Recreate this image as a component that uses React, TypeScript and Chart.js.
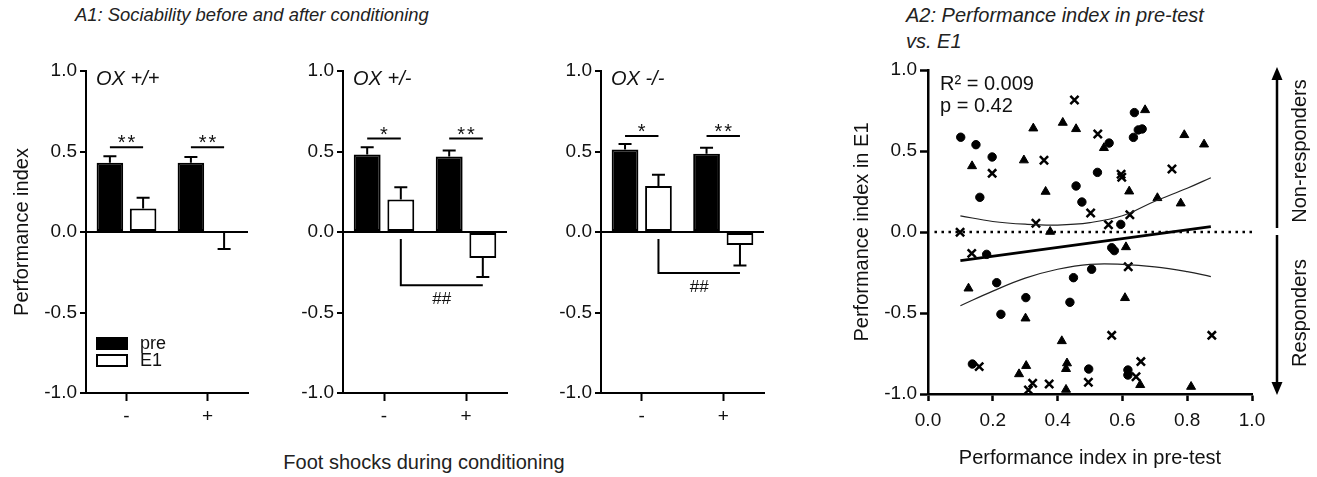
import React, { useEffect, useRef } from 'react';
import { Chart, registerables } from 'chart.js';
Chart.register(...registerables);

const FONT = "Arial, 'Liberation Sans', Helvetica, sans-serif";
const INK = '#111';

// ---------------- A1 data ----------------
const shockLevels = ['-', '+'];
const genotypeLabels = ['OX +/+', 'OX +/-', 'OX -/-'];
const seriesLabels = ['pre', 'E1'];
const yTicksA1 = [-1, -0.5, 0, 0.5, 1];

const preWT = [0.43, 0.43];
const preWTErr = [0.04, 0.036];
const e1WT = [0.146, -0.005];
const e1WTErr = [0.066, 0.1];

const preHet = [0.481, 0.469];
const preHetErr = [0.046, 0.037];
const e1Het = [0.202, -0.162];
const e1HetErr = [0.076, 0.118];

const preKO = [0.512, 0.486];
const preKOErr = [0.035, 0.037];
const e1KO = [0.286, -0.08];
const e1KOErr = [0.07, 0.128];

const sigMarks = [['**', '**'], ['*', '**'], ['*', '**']];
const hashMarks = ['', '##', '##'];

// ---------------- A2 data ----------------
const xTicksA2 = [0, 0.2, 0.4, 0.6, 0.8, 1.0];
const yTicksA2 = [-1, -0.5, 0, 0.5, 1];

const circleX = [0.101, 0.148, 0.198, 0.160, 0.457, 0.475, 0.523, 0.559, 0.637, 0.649, 0.661, 0.634, 0.595, 0.567, 0.575, 0.505, 0.449, 0.438, 0.181, 0.212, 0.302, 0.225, 0.137, 0.496, 0.617, 0.617];
const circleY = [0.585, 0.539, 0.463, 0.214, 0.284, 0.185, 0.368, 0.549, 0.737, 0.630, 0.636, 0.584, 0.047, -0.097, -0.115, -0.230, -0.282, -0.434, -0.138, -0.313, -0.405, -0.508, -0.815, -0.846, -0.852, -0.883];

const triangleX = [0.136, 0.296, 0.325, 0.416, 0.457, 0.363, 0.377, 0.543, 0.670, 0.621, 0.791, 0.852, 0.708, 0.780, 0.611, 0.608, 0.413, 0.429, 0.426, 0.655, 0.426, 0.812, 0.125, 0.301, 0.303, 0.281];
const triangleY = [0.407, 0.443, 0.640, 0.675, 0.636, 0.249, 0.002, 0.519, 0.753, 0.251, 0.599, 0.541, 0.210, 0.177, -0.093, -0.407, -0.673, -0.810, -0.845, -0.944, -0.973, -0.955, -0.348, -0.533, -0.826, -0.877];

const crossX = [0.198, 0.358, 0.452, 0.333, 0.099, 0.524, 0.596, 0.598, 0.502, 0.623, 0.557, 0.753, 0.618, 0.567, 0.876, 0.657, 0.642, 0.495, 0.135, 0.158, 0.323, 0.310, 0.374];
const crossY = [0.362, 0.443, 0.815, 0.054, -0.002, 0.605, 0.356, 0.338, 0.117, 0.107, 0.045, 0.389, -0.214, -0.638, -0.638, -0.800, -0.893, -0.928, -0.132, -0.831, -0.934, -0.975, -0.938];

const fitX = [0.1, 0.873];
const fitY = [-0.177, 0.033];
const bandX = [0.1, 0.2, 0.3, 0.4, 0.5, 0.6, 0.7, 0.8, 0.873];
const upperBand = [0.10, 0.065, 0.048, 0.043, 0.058, 0.10, 0.19, 0.27, 0.335];
const lowerBand = [-0.455, -0.365, -0.285, -0.23, -0.2, -0.2, -0.215, -0.245, -0.275];
const refLineX = [0.02, 1.0];
const statLines = ['R\u00b2 = 0.009', 'p = 0.42'];
const sideLabels = ['Non-responders', 'Responders'];

// ---------------- layout (positions only) ----------------
type Box = { left: number; top: number; w: number; h: number };
type Area = { l: number; t: number; r: number; b: number };

const barPanels = [
  { pre: preWT, preErr: preWTErr, e1: e1WT, e1Err: e1WTErr },
  { pre: preHet, preErr: preHetErr, e1: e1Het, e1Err: e1HetErr },
  { pre: preKO, preErr: preKOErr, e1: e1KO, e1Err: e1KOErr },
];

const barLayout = [
  { box: { left: 0, top: 50, w: 262, h: 380 }, area: { l: 86, t: 71, r: 248, b: 393 }, sigLevel: 0.526, hashLevel: 0 },
  { box: { left: 262, top: 50, w: 258, h: 380 }, area: { l: 343, t: 71, r: 507, b: 393 }, sigLevel: 0.58, hashLevel: -0.33 },
  { box: { left: 520, top: 50, w: 260, h: 380 }, area: { l: 601, t: 71, r: 764, b: 393 }, sigLevel: 0.596, hashLevel: -0.255 },
];

const scatterLayout = { box: { left: 835, top: 50, w: 482, h: 427 }, area: { l: 928, t: 70, r: 1252, b: 394 } };

function frame(box: Box, area: Area) {
  return {
    padding: { left: 0, top: area.t - box.top, right: box.left + box.w - area.r, bottom: 0 },
    yWidth: area.l - box.left,
    xHeight: box.top + box.h - area.b,
  };
}

const font = (size: number, style: string = 'normal') => ({ family: FONT, size, style: style as any });

function BarPanel({ idx }: { idx: number }) {
  const ref = useRef<HTMLCanvasElement>(null);
  const lay = barLayout[idx];
  const d = barPanels[idx];
  useEffect(() => {
    const f = frame(lay.box, lay.area);
    const annot = {
      id: 'annot' + idx,
      afterDatasetsDraw(chart: any) {
        const ctx = chart.ctx;
        const ys = chart.scales.y;
        const ca = chart.chartArea;
        const m0 = chart.getDatasetMeta(0);
        const m1 = chart.getDatasetMeta(1);
        ctx.save();
        ctx.strokeStyle = '#000';
        ctx.lineWidth = 2;
        // error bars
        const groups = [[m0, d.pre, d.preErr], [m1, d.e1, d.e1Err]] as any[];
        groups.forEach(([meta, vals, errs]) => {
          meta.data.forEach((bar: any, i: number) => {
            const v = vals[i];
            const e = errs[i];
            const end = v >= 0 ? v + e : v - e;
            const y0 = ys.getPixelForValue(v);
            const y1 = ys.getPixelForValue(end);
            ctx.beginPath();
            ctx.moveTo(bar.x, y0);
            ctx.lineTo(bar.x, y1);
            ctx.moveTo(bar.x - 6.5, y1);
            ctx.lineTo(bar.x + 6.5, y1);
            ctx.stroke();
          });
        });
        // significance lines
        const sl = ys.getPixelForValue(lay.sigLevel);
        ctx.fillStyle = INK;
        ctx.textAlign = 'center';
        ctx.textBaseline = 'alphabetic';
        ctx.font = `20px ${FONT}`;
        try { (ctx as any).letterSpacing = '2px'; } catch (e) { /* ignore */ }
        sigMarks[idx].forEach((s, i) => {
          const xa = m0.data[i].x;
          const xb = m1.data[i].x;
          ctx.beginPath();
          ctx.moveTo(xa, sl);
          ctx.lineTo(xb, sl);
          ctx.stroke();
          ctx.fillText(s, (xa + xb) / 2 + 1, sl + 2);
        });
        try { (ctx as any).letterSpacing = '0px'; } catch (e) { /* ignore */ }
        // ## bracket
        if (hashMarks[idx]) {
          const z = ys.getPixelForValue(0);
          const hl = ys.getPixelForValue(lay.hashLevel);
          const xa = m1.data[0].x;
          const xb = m1.data[1].x;
          ctx.beginPath();
          ctx.moveTo(xa, z + 7);
          ctx.lineTo(xa, hl);
          ctx.lineTo(xb, hl);
          ctx.stroke();
          ctx.textBaseline = 'top';
          ctx.font = `17px ${FONT}`;
          ctx.fillText(hashMarks[idx], (xa + xb) / 2, hl + 6);
        }
        // genotype label
        ctx.textAlign = 'left';
        ctx.textBaseline = 'middle';
        ctx.font = `italic 20px ${FONT}`;
        ctx.fillText(genotypeLabels[idx], ca.left + 10, ca.top + 8);
        // legend (first panel)
        if (idx === 0) {
          ctx.font = `18px ${FONT}`;
          chart.data.datasets.forEach((ds: any, i: number) => {
            const ry = ca.top + 267 + i * 17;
            ctx.fillStyle = ds.backgroundColor;
            ctx.fillRect(ca.left + 11, ry, 30, 11);
            ctx.strokeStyle = '#000';
            ctx.lineWidth = 2;
            ctx.strokeRect(ca.left + 11, ry, 30, 11);
            ctx.fillStyle = INK;
            ctx.fillText(ds.label, ca.left + 54, ry + 6);
          });
        }
        ctx.restore();
      },
    };
    const barDs = (label: string, data: number[], bg: string) => ({
      label,
      data,
      backgroundColor: bg,
      borderColor: '#000',
      borderWidth: 2,
      borderSkipped: false,
      categoryPercentage: 0.82,
      barPercentage: 0.8,
    });
    const chart = new Chart(ref.current as HTMLCanvasElement, {
      type: 'bar',
      data: {
        labels: shockLevels,
        datasets: [barDs(seriesLabels[0], d.pre, '#000'), barDs(seriesLabels[1], d.e1, '#fff')] as any,
      },
      options: {
        responsive: false,
        animation: false,
        layout: { padding: f.padding },
        plugins: { legend: { display: false }, tooltip: { enabled: false } },
        scales: {
          x: {
            type: 'category',
            offset: true,
            grid: { offset: false, drawOnChartArea: false, drawTicks: true, tickLength: 8, tickColor: '#000', tickWidth: 2 },
            border: { display: true, color: '#000', width: 2 },
            ticks: { color: INK, font: font(19), padding: 4, maxRotation: 0 },
            afterFit: (s: any) => { s.height = f.xHeight; },
          },
          y: {
            min: -1,
            max: 1,
            afterBuildTicks: (s: any) => { s.ticks = yTicksA1.map((v) => ({ value: v })); },
            ticks: { color: INK, font: font(19), padding: 3, callback: (v: any) => Number(v).toFixed(1) },
            grid: {
              color: (c: any) => (c.tick && c.tick.value === 0 ? '#000' : 'rgba(0,0,0,0)'),
              lineWidth: 2,
              tickColor: '#000',
              tickWidth: 2,
              tickLength: 6,
            },
            border: { display: true, color: '#000', width: 2 },
            title: { display: idx === 0, text: 'Performance index', color: INK, font: font(20), padding: { top: 10, bottom: 0 } },
            afterFit: (s: any) => { s.width = f.yWidth; },
          },
        },
      } as any,
      plugins: [annot],
    });
    return () => chart.destroy();
  }, [idx]);
  const b = lay.box;
  return (
    <canvas
      ref={ref}
      width={b.w}
      height={b.h}
      style={{ position: 'absolute', left: b.left, top: b.top, width: b.w, height: b.h }}
    />
  );
}

function ScatterPanel() {
  const ref = useRef<HTMLCanvasElement>(null);
  useEffect(() => {
    const f = frame(scatterLayout.box, scatterLayout.area);
    const deco = {
      id: 'deco',
      afterDraw(chart: any) {
        const ctx = chart.ctx;
        const ca = chart.chartArea;
        const ys = chart.scales.y;
        const z = ys.getPixelForValue(0);
        ctx.save();
        ctx.fillStyle = INK;
        ctx.font = `20px ${FONT}`;
        ctx.textAlign = 'left';
        ctx.textBaseline = 'middle';
        ctx.fillText(statLines[0], ca.left + 12, ca.top + 14);
        ctx.fillText(statLines[1], ca.left + 12, ca.top + 36);
        // arrows
        const ax = ca.right + 25;
        ctx.strokeStyle = '#000';
        ctx.fillStyle = '#000';
        ctx.lineWidth = 2.5;
        const topTip = ca.top - 3;
        const botTip = ca.bottom + 1;
        ctx.beginPath();
        ctx.moveTo(ax, topTip + 10);
        ctx.lineTo(ax, z - 4);
        ctx.moveTo(ax, z + 3);
        ctx.lineTo(ax, botTip - 10);
        ctx.stroke();
        ctx.beginPath();
        ctx.moveTo(ax, topTip);
        ctx.lineTo(ax - 5.5, topTip + 13);
        ctx.lineTo(ax + 5.5, topTip + 13);
        ctx.closePath();
        ctx.fill();
        ctx.beginPath();
        ctx.moveTo(ax, botTip);
        ctx.lineTo(ax - 5.5, botTip - 13);
        ctx.lineTo(ax + 5.5, botTip - 13);
        ctx.closePath();
        ctx.fill();
        // side labels
        ctx.fillStyle = INK;
        ctx.textAlign = 'center';
        const tx = ca.right + 48;
        [[sideLabels[0], (ca.top + z) / 2], [sideLabels[1], (z + ca.bottom) / 2]].forEach(([t, y]: any) => {
          ctx.save();
          ctx.translate(tx, y);
          ctx.rotate(-Math.PI / 2);
          ctx.fillText(t, 0, 0);
          ctx.restore();
        });
        ctx.restore();
      },
    };
    const pts = (xs: number[], ys: number[]) => xs.map((x, i) => ({ x, y: ys[i] }));
    const chart = new Chart(ref.current as HTMLCanvasElement, {
      type: 'scatter',
      data: {
        datasets: [
          { label: 'zero', data: refLineX.map((x) => ({ x, y: 0 })), showLine: true, borderColor: '#000', borderWidth: 2.5, borderDash: [2.5, 4.5], pointRadius: 0, clip: false },
          { label: 'upper CI', data: pts(bandX, upperBand), showLine: true, borderColor: '#222', borderWidth: 1.2, tension: 0.4, pointRadius: 0 },
          { label: 'lower CI', data: pts(bandX, lowerBand), showLine: true, borderColor: '#222', borderWidth: 1.2, tension: 0.4, pointRadius: 0 },
          { label: 'fit', data: pts(fitX, fitY), showLine: true, borderColor: '#000', borderWidth: 2.8, pointRadius: 0 },
          { label: 'circles', data: pts(circleX, circleY), pointStyle: 'circle', pointRadius: 4.2, backgroundColor: '#000', borderColor: '#000', borderWidth: 1, clip: false },
          { label: 'triangles', data: pts(triangleX, triangleY), pointStyle: 'triangle', pointRadius: 5.2, backgroundColor: '#000', borderColor: '#000', borderWidth: 1, clip: false },
          { label: 'crosses', data: pts(crossX, crossY), pointStyle: 'crossRot', pointRadius: 5.8, backgroundColor: '#000', borderColor: '#000', borderWidth: 2.5, clip: false },
        ] as any,
      },
      options: {
        responsive: false,
        animation: false,
        layout: { padding: f.padding },
        plugins: { legend: { display: false }, tooltip: { enabled: false } },
        scales: {
          x: {
            type: 'linear',
            min: 0,
            max: 1,
            afterBuildTicks: (s: any) => { s.ticks = xTicksA2.map((v) => ({ value: v })); },
            ticks: { color: INK, font: font(19), padding: 8, maxRotation: 0, callback: (v: any) => Number(v).toFixed(1) },
            grid: { drawOnChartArea: false, tickLength: 7, tickColor: '#000', tickWidth: 2.5 },
            border: { display: true, color: '#000', width: 2.5 },
            title: { display: true, text: 'Performance index in pre-test', color: INK, font: font(20), padding: { top: 0, bottom: 7 } },
            afterFit: (s: any) => { s.height = f.xHeight; },
          },
          y: {
            min: -1,
            max: 1,
            afterBuildTicks: (s: any) => { s.ticks = yTicksA2.map((v) => ({ value: v })); },
            ticks: { color: INK, font: font(19), padding: 3, callback: (v: any) => Number(v).toFixed(1) },
            grid: { drawOnChartArea: false, tickLength: 8, tickColor: '#000', tickWidth: 2.5 },
            border: { display: true, color: '#000', width: 2.5 },
            title: { display: true, text: 'Performance index in E1', color: INK, font: font(20), padding: { top: 15, bottom: 0 } },
            afterFit: (s: any) => { s.width = f.yWidth; },
          },
        },
      } as any,
      plugins: [deco],
    });
    return () => chart.destroy();
  }, []);
  const b = scatterLayout.box;
  return (
    <canvas
      ref={ref}
      width={b.w}
      height={b.h}
      style={{ position: 'absolute', left: b.left, top: b.top, width: b.w, height: b.h }}
    />
  );
}

export default function App() {
  const textStyle: React.CSSProperties = { position: 'absolute', fontFamily: FONT, fontSize: 20, color: '#222', whiteSpace: 'nowrap', lineHeight: '26px' };
  return (
    <div style={{ position: 'fixed', left: 0, top: 0, width: 1317, height: 477, background: '#fff', overflow: 'hidden' }}>
      <div style={{ ...textStyle, left: 75, top: 2, fontSize: 18.4, fontStyle: 'italic' }}>A1: Sociability before and after conditioning</div>
      <div style={{ ...textStyle, left: 906, top: 2, fontStyle: 'italic' }}>
        A2: Performance index in pre-test
        <br />
        vs. E1
      </div>
      <div style={{ ...textStyle, left: 224, width: 400, top: 449, textAlign: 'center' }}>Foot shocks during conditioning</div>
      {barLayout.map((_, i) => (
        <BarPanel key={i} idx={i} />
      ))}
      <ScatterPanel />
    </div>
  );
}
